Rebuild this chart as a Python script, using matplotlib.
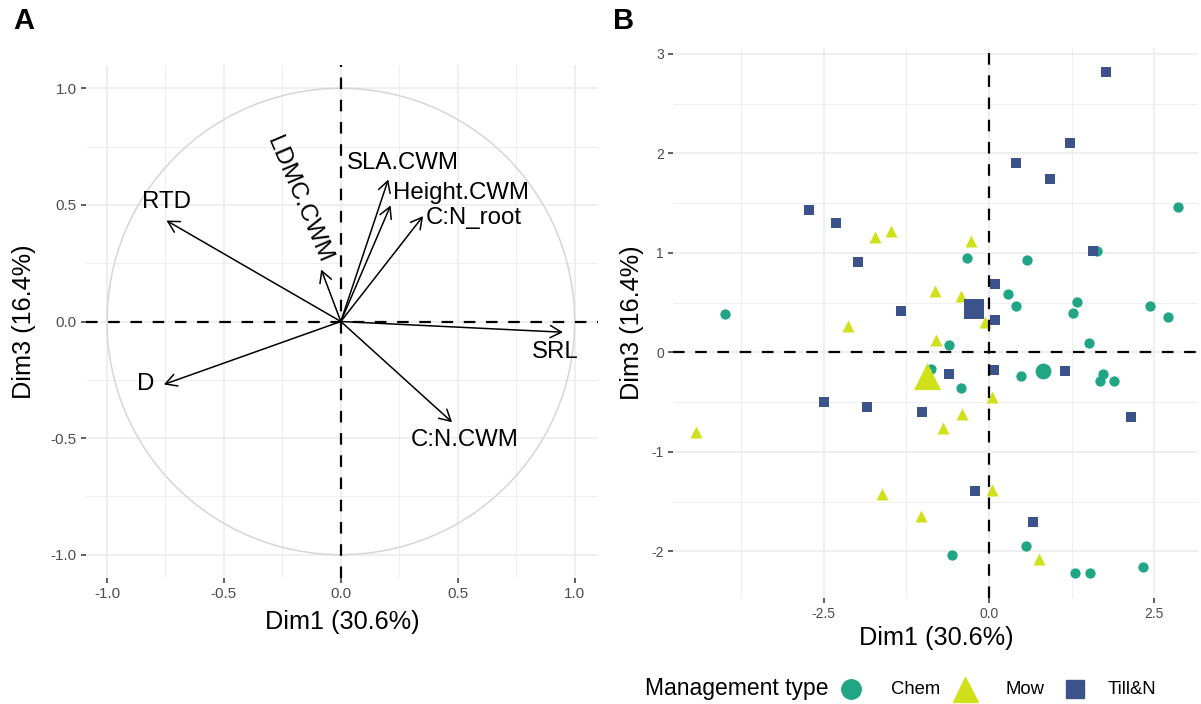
import numpy as np
import matplotlib
matplotlib.use("Agg")
import matplotlib.pyplot as plt
from matplotlib.lines import Line2D
from matplotlib.patches import Circle
from matplotlib.ticker import MultipleLocator, FixedLocator

plt.rcParams['font.family'] = ['Liberation Sans', 'DejaVu Sans']
plt.rcParams['axes.unicode_minus'] = False

# ---------------- Data ----------------
# Panel A: variable loadings (Dim1, Dim3)
var_names = ["SRL", "C:N.CWM", "D", "RTD", "LDMC.CWM", "SLA.CWM", "Height.CWM", "C:N_root"]
var_dim1 = [0.95, 0.476, -0.757, -0.746, -0.084, 0.203, 0.213, 0.352]
var_dim3 = [-0.046, -0.432, -0.270, 0.433, 0.223, 0.609, 0.498, 0.452]

# Panel B: individuals (Dim1, Dim3) by management type
chem_x = [-4.00, 2.85, 1.63, -0.33, 0.57, 0.29, 0.40, 1.33, 1.27, 2.44, 2.70, -0.61,
          1.51, -0.88, -0.43, 0.48, 1.72, 1.68, 1.89, 0.56, -0.56, 1.30, 1.53, 2.33]
chem_y = [0.385, 1.46, 1.02, 0.95, 0.93, 0.59, 0.47, 0.51, 0.40, 0.47, 0.36, 0.07,
          0.09, -0.17, -0.36, -0.24, -0.22, -0.29, -0.29, -1.95, -2.04, -2.22, -2.22, -2.16]
mow_x = [-2.13, -1.72, -1.49, -0.28, -0.82, -0.42, -0.06, -0.81, 0.045, -0.41, -0.70,
         0.05, -1.03, 0.76, -4.43, -1.62]
mow_y = [0.26, 1.16, 1.22, 1.12, 0.62, 0.57, 0.31, 0.12, -0.45, -0.62, -0.76,
         -1.38, -1.65, -2.08, -0.80, -1.42]
till_x = [-2.73, -2.31, -1.98, -1.33, 1.77, 1.23, 0.41, 0.92, 1.57, 0.09, 0.09, -0.60,
          0.07, 1.15, -1.02, 2.15, -0.21, 0.66, -2.50, -1.84]
till_y = [1.43, 1.30, 0.91, 0.415, 2.82, 2.10, 1.90, 1.74, 1.02, 0.69, 0.33, -0.22,
          -0.18, -0.19, -0.60, -0.65, -1.39, -1.71, -0.50, -0.55]

groups = ["Chem", "Mow", "Till&N"]
colors = {"Chem": "#21A685", "Mow": "#D0E11C", "Till&N": "#3B528B"}
markers = {"Chem": "o", "Mow": "^", "Till&N": "s"}
sizes = {"Chem": 55, "Mow": 75, "Till&N": 50}
mean_sizes = {"Chem": 130, "Mow": 380, "Till&N": 200}
gdata = {"Chem": (chem_x, chem_y), "Mow": (mow_x, mow_y), "Till&N": (till_x, till_y)}

# label offsets (layout) for panel A
label_off = {"SRL": (-0.033, -0.083), "C:N.CWM": (0.055, -0.078), "D": (-0.079, 0.004),
             "RTD": (0.0, 0.081), "LDMC.CWM": (-0.096, 0.30), "SLA.CWM": (0.063, 0.072),
             "Height.CWM": (0.301, 0.051), "C:N_root": (0.218, -0.006)}

W, H = 1201, 704
fig = plt.figure(figsize=(W / 100, H / 100), dpi=100)
fig.patch.set_facecolor("white")

def px_axes(l, r, t, b):
    return fig.add_axes([l / W, 1 - b / H, (r - l) / W, (b - t) / H])

GRID = "#EBEBEB"
TICKC = "#4D4D4D"

def style(ax, tsize):
    for s in ax.spines.values():
        s.set_visible(False)
    ax.grid(True, which="major", color=GRID, lw=1.1, zorder=0)
    ax.grid(True, which="minor", color=GRID, lw=0.55, zorder=0)
    ax.set_axisbelow(True)
    ax.tick_params(which="major", length=3.5, width=1.1, color="#333333",
                   labelcolor=TICKC, labelsize=tsize, pad=3)
    ax.tick_params(which="minor", length=0)

dash = (0, (5.2, 4.8))

# ---------------- Panel A ----------------
axA = px_axes(86, 598, 65, 578)
axA.set_xlim(-1.09, 1.10)
axA.set_ylim(-1.10, 1.10)
style(axA, 11)
axA.xaxis.set_minor_locator(MultipleLocator(0.25))
axA.yaxis.set_minor_locator(MultipleLocator(0.25))
axA.set_xticks([-1, -0.5, 0, 0.5, 1])
axA.set_xticklabels(["-1.0", "-0.5", "0.0", "0.5", "1.0"])
axA.set_yticks([-1, -0.5, 0, 0.5, 1])
axA.set_yticklabels(["-1.0", "-0.5", "0.0", "0.5", "1.0"])

axA.add_patch(Circle((0, 0), 1.0, fill=False, ec="#D6D6D6", lw=1.1, zorder=1))
axA.axhline(0, color="black", lw=1.6, ls=dash, zorder=2)
axA.axvline(0, color="black", lw=1.6, ls=dash, zorder=2)

for name, x, y in zip(var_names, var_dim1, var_dim3):
    axA.annotate("", xy=(x, y), xytext=(0, 0),
                 arrowprops=dict(arrowstyle="->,head_length=0.4,head_width=0.22",
                                 color="black", lw=1.1, mutation_scale=20,
                                 shrinkA=0, shrinkB=0), zorder=3)
    dx, dy = label_off[name]
    rot = -67 if name == "LDMC.CWM" else 0
    axA.text(x + dx, y + dy, name, fontsize=17.3, ha="center", va="center",
             rotation=rot, rotation_mode="anchor", zorder=4)

fig.text(342 / W, 1 - 622 / H, "Dim1 (30.6%)", fontsize=18.2, ha="center", va="center")
fig.text(24 / W, 1 - 322 / H, "Dim3 (16.4%)", fontsize=18.2, ha="center", va="center",
         rotation=90)
fig.text(13 / W, 1 - 21 / H, "A", fontsize=21, fontweight="bold", ha="left", va="center")

# ---------------- Panel B ----------------
axB = px_axes(673, 1198, 48, 598)
axB.set_xlim(-4.78, 3.16)
axB.set_ylim(-2.47, 3.06)
style(axB, 10)
axB.set_xticks([-2.5, 0, 2.5])
axB.set_xticklabels(["-2.5", "0.0", "2.5"])
axB.xaxis.set_minor_locator(FixedLocator([-3.75, -1.25, 1.25]))
axB.set_yticks([-2, -1, 0, 1, 2, 3])
axB.set_yticklabels(["-2", "-1", "0", "1", "2", "3"])
axB.yaxis.set_minor_locator(FixedLocator([-1.5, -0.5, 0.5, 1.5, 2.5]))

for g in groups:
    xs, ys = gdata[g]
    axB.scatter(xs, ys, s=sizes[g], marker=markers[g], color=colors[g],
                linewidths=0, zorder=3)
for g in groups:
    xs, ys = gdata[g]
    axB.scatter([np.mean(xs)], [np.mean(ys)], s=mean_sizes[g], marker=markers[g],
                color=colors[g], linewidths=0, zorder=4)

axB.axhline(0, color="black", lw=1.6, ls=dash, zorder=5)
axB.axvline(0, color="black", lw=1.6, ls=dash, zorder=5)

fig.text(936 / W, 1 - 638 / H, "Dim1 (30.6%)", fontsize=18.2, ha="center", va="center")
fig.text(632 / W, 1 - 323 / H, "Dim3 (16.4%)", fontsize=18.2, ha="center", va="center",
         rotation=90)
fig.text(613 / W, 1 - 21 / H, "B", fontsize=21, fontweight="bold", ha="left", va="center")

# ---------------- Legend (manual layout) ----------------
leg_y = 1 - 689 / H
fig.text(645 / W, leg_y, "Management type", fontsize=16.5, ha="left", va="center")
leg_marker_x = {"Chem": 851, "Mow": 965, "Till&N": 1075}
leg_text_x = {"Chem": 891, "Mow": 1005, "Till&N": 1108}
leg_msize = {"Chem": 14, "Mow": 18, "Till&N": 13}
for g in groups:
    fig.add_artist(Line2D([leg_marker_x[g] / W], [leg_y], ls="none", marker=markers[g],
                          color=colors[g], markersize=leg_msize[g],
                          transform=fig.transFigure))
    fig.text(leg_text_x[g] / W, leg_y, g, fontsize=13.3, ha="left", va="center")

fig.savefig("out.png", dpi=100, facecolor="white")
